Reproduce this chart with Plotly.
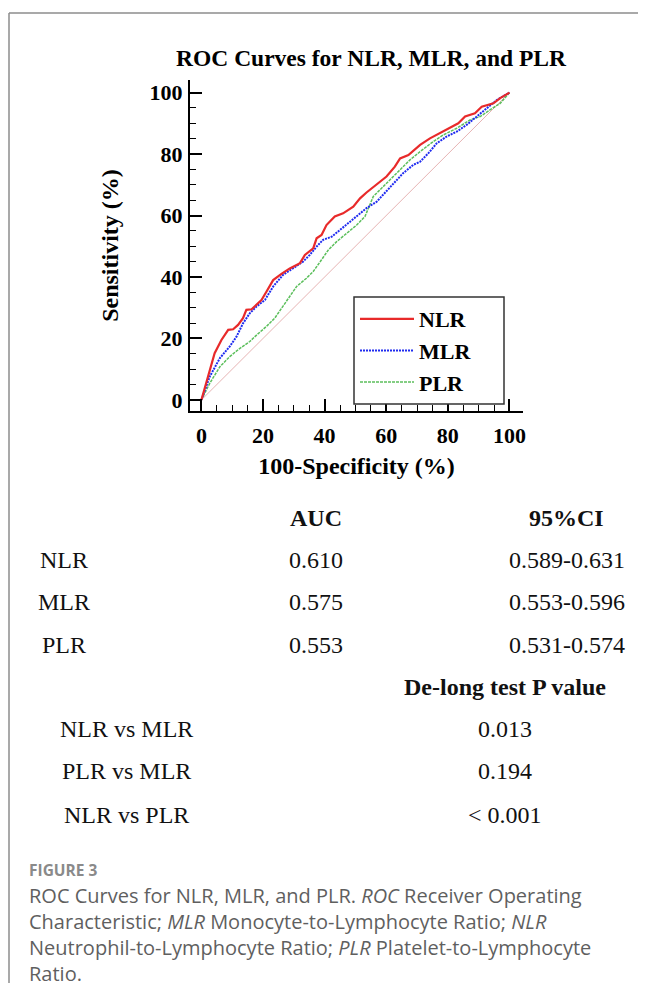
import plotly.graph_objects as go

# ---------------- data ----------------
nlr_fpr = [0, 1.0, 2.0, 3.3, 4.3, 6.5, 8.7, 10.3, 11.9, 13.5, 14.6, 16.3, 17.9, 19.5, 21.1, 23.3, 26.0, 28.7,
           32.0, 33.6, 36.3, 37.4, 39.0, 40.6, 43.3, 46.0, 49.3, 51.5, 53.6, 56.9, 60.1, 62.8, 64.5, 67.2, 71.0,
           74.2, 77.5, 80.7, 83.4, 85.6, 88.8, 91.0, 94.8, 97.0, 100]
nlr_tpr = [0, 3.5, 7.0, 11.4, 15.2, 19.5, 22.8, 23.0, 24.4, 26.6, 29.3, 29.5, 30.9, 32.5, 35.2, 39.0, 41.0, 42.8,
           44.5, 47.2, 49.3, 52.6, 53.7, 56.9, 59.7, 60.7, 62.9, 65.6, 67.5, 70.0, 72.7, 75.9, 78.6, 79.7, 83.0,
           85.1, 86.8, 88.4, 90.0, 92.2, 93.3, 95.4, 96.5, 98.2, 100]

mlr_fpr = [0, 1.2, 2.7, 6.0, 9.2, 11.4, 13.5, 15.7, 17.9, 20.6, 23.3, 26.5, 28.7, 30.9, 33.0, 35.2, 37.4, 39.5,
           42.3, 45.0, 47.7, 50.4, 53.6, 56.9, 59.0, 62.3, 65.5, 68.8, 71.0, 73.7, 76.4, 79.6, 82.9, 86.1, 89.4,
           92.6, 95.9, 100]
mlr_tpr = [0, 3.5, 7.6, 13.6, 17.4, 20.6, 24.9, 28.2, 30.4, 32.5, 36.9, 40.7, 42.3, 43.6, 45.0, 47.2, 49.9, 52.1,
           53.1, 55.3, 57.5, 59.7, 62.4, 64.5, 66.7, 70.5, 73.8, 76.5, 77.5, 80.3, 83.5, 85.7, 87.3, 89.5, 92.2,
           94.9, 97.6, 100]

plr_fpr = [0, 1.2, 2.7, 6.0, 9.2, 12.5, 15.7, 17.9, 21.1, 23.8, 26.5, 28.7, 30.9, 34.1, 36.3, 39.0, 41.2, 43.9,
           47.1, 50.4, 53.1, 55.8, 59.0, 61.2, 64.5, 67.7, 71.0, 75.3, 78.5, 82.9, 87.2, 90.5, 93.7, 97.0, 100]
plr_tpr = [0, 2.5, 5.4, 10.8, 14.1, 16.8, 19.0, 21.1, 23.9, 26.6, 30.4, 33.6, 36.9, 39.6, 41.8, 45.6, 48.8, 51.5,
           54.2, 56.9, 59.7, 66.2, 69.4, 71.6, 74.8, 78.1, 80.8, 84.1, 86.2, 88.4, 91.1, 92.2, 94.4, 96.5, 100]

ref_line = [0, 100]

tick_vals = [0, 20, 40, 60, 80, 100]

table_markers = ["NLR", "MLR", "PLR"]
table_auc = ["0.610", "0.575", "0.553"]
table_ci = ["0.589-0.631", "0.553-0.596", "0.531-0.574"]
comparisons = ["NLR vs MLR", "PLR vs MLR", "NLR vs PLR"]
p_values = ["0.013", "0.194", "< 0.001"]

caption_lines = [
    "ROC Curves for NLR, MLR, and PLR. <i>ROC</i> Receiver Operating",
    "Characteristic; <i>MLR</i> Monocyte-to-Lymphocyte Ratio; <i>NLR</i>",
    "Neutrophil-to-Lymphocyte Ratio; <i>PLR</i> Platelet-to-Lymphocyte",
    "Ratio.",
]

# ---------------- layout geometry (page pixels) ----------------
OFF = 8  # default body margin of the html page
PAGE_W, PAGE_H = 646, 983
W, H = PAGE_W - OFF, PAGE_H - OFF
PL, PR, PT, PB = 190, 523, 80, 411  # plot area in page pixels


def px_x(p):
    return (p - PL) / (PR - PL)


def px_y(p):
    return (PB - p) / (PB - PT)


SERIF = "Liberation Serif, Times New Roman, serif"

fig = go.Figure()

fig.add_trace(go.Scatter(x=ref_line, y=ref_line, mode="lines", showlegend=False,
                         line=dict(color="#e6b3b3", width=1), hoverinfo="skip"))
fig.add_trace(go.Scatter(x=plr_fpr, y=plr_tpr, mode="lines", name="PLR", legendrank=3,
                         line=dict(color="#5cbf5c", width=1.5, dash="3px,1px")))
fig.add_trace(go.Scatter(x=mlr_fpr, y=mlr_tpr, mode="lines", name="MLR", legendrank=2,
                         line=dict(color="#1f2bf0", width=2, dash="2px,1px")))
fig.add_trace(go.Scatter(x=nlr_fpr, y=nlr_tpr, mode="lines", name="NLR", legendrank=1,
                         line=dict(color="#e82a2a", width=2.2)))

axis_common = dict(
    showgrid=False, zeroline=False, showline=True, linecolor="black", linewidth=2,
    ticks="inside", ticklen=12, tickwidth=1.5, tickcolor="black",
    tickvals=tick_vals, ticktext=[str(v) for v in tick_vals],
    tickfont=dict(family=SERIF, size=22, color="black", weight="bold"),
    minor=dict(ticks="inside", ticklen=6, tickwidth=1.2, tickcolor="black", dtick=5, showgrid=False),
    mirror=False,
)

fig.update_layout(
    width=W, height=H,
    margin=dict(l=PL - OFF, r=W - (PR - OFF), t=PT - OFF, b=H - (PB - OFF), autoexpand=False),
    paper_bgcolor="white", plot_bgcolor="white",
    xaxis=dict(range=[-3.7, 104.4], ticklabelstandoff=4,
               title=dict(text="100-Specificity (%)", standoff=10,
                          font=dict(family=SERIF, size=24, color="black", weight="bold")),
               **axis_common),
    yaxis=dict(range=[-3.6, 104.1], ticklabelstandoff=1,
               title=dict(text="Sensitivity (%)", standoff=24,
                          font=dict(family=SERIF, size=24, color="black", weight="bold")),
               **axis_common),
    title=dict(text="<b>ROC Curves for NLR, MLR, and PLR</b>", x=px_x(371), xref="paper", xanchor="center",
               y=1 - (58 - OFF) / H, yanchor="middle",
               font=dict(family=SERIF, size=23.5, color="black")),
    legend=dict(x=px_x(355), y=px_y(298), xanchor="left", yanchor="top",
                bgcolor="rgba(255,255,255,0)", borderwidth=0,
                font=dict(family=SERIF, size=22, color="black", weight="bold"),
                itemwidth=54, traceorder="normal", tracegroupgap=0),
    showlegend=True,
)

# legend frame (wider than the entries, as in the reference)
fig.add_shape(type="rect", xref="paper", yref="paper", x0=px_x(354), x1=px_x(504), y0=px_y(297), y1=px_y(404),
              line=dict(color="#333333", width=1.5), fillcolor="white", layer="above")

# page frame border
fig.add_shape(type="line", xref="paper", yref="paper", x0=px_x(9), x1=px_x(PAGE_W + 10), y0=px_y(13), y1=px_y(13),
              line=dict(color="#8c8c8c", width=1.5))
fig.add_shape(type="line", xref="paper", yref="paper", x0=px_x(9), x1=px_x(9), y0=px_y(13), y1=px_y(PAGE_H + 10),
              line=dict(color="#8c8c8c", width=1.5))


def ann(text, xp, yp, size=24, bold=False, xanchor="center", family=SERIF, color="#111111"):
    fig.add_annotation(text=text, xref="paper", yref="paper", x=px_x(xp), y=px_y(yp), xanchor=xanchor,
                       yanchor="middle", showarrow=False, align="left",
                       font=dict(family=family, size=size, color=color, weight="bold" if bold else "normal"))


# AUC table
ann("AUC", 316, 518, bold=True)
ann("95%CI", 566, 518, bold=True)
row_y = [560, 602, 645]
for lab, auc, ci, yy in zip(table_markers, table_auc, table_ci, row_y):
    ann(lab, 63.5, yy)
    ann(auc, 316, yy)
    ann(ci, 567, yy)

# DeLong table
ann("De-long test P value", 505, 687, bold=True)
cmp_y = [729, 771, 815]
for lab, pv, yy in zip(comparisons, p_values, cmp_y):
    ann(lab, 126, yy)
    ann(pv, 505, yy)

# caption
CAP = "Open Sans, sans-serif"
ann("FIGURE 3", 27, 870, size=15.5, bold=True, xanchor="left", family=CAP, color="#8a8a8a")
ann("<br>".join(caption_lines), 27, 935, size=20, xanchor="left", family=CAP, color="#5f5f5f")

fig.write_html("out.html")
